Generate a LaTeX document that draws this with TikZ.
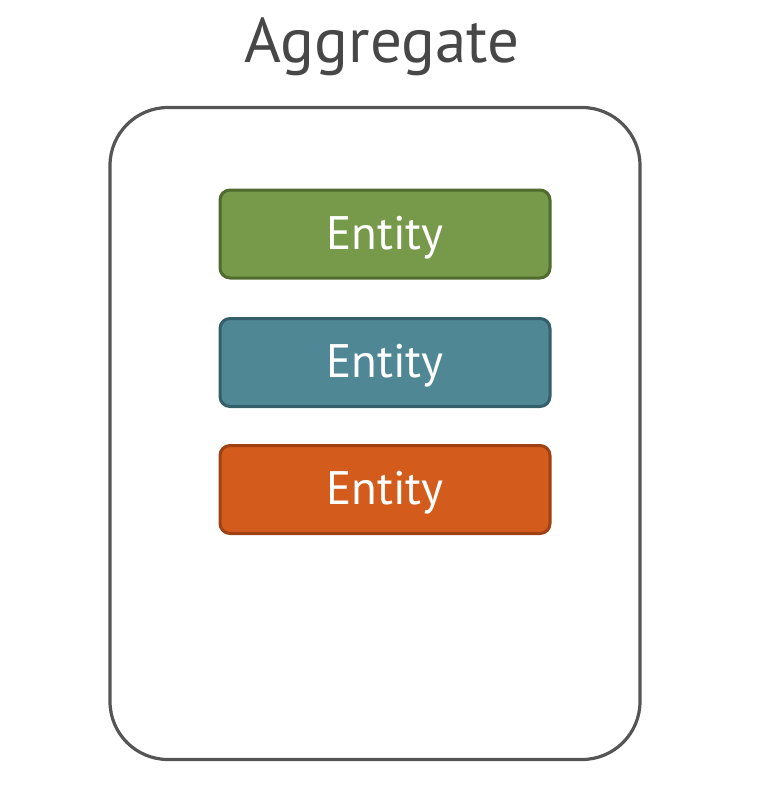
\documentclass[tikz,border=0pt]{standalone}
\usepackage{fontspec}
\setmainfont{PT Sans}
\definecolor{gfill}{HTML}{77994A}
\definecolor{gline}{HTML}{4F6B2E}
\definecolor{bfill}{HTML}{508795}
\definecolor{bline}{HTML}{345F6A}
\definecolor{ofill}{HTML}{D35C1C}
\definecolor{oline}{HTML}{9E4114}
\definecolor{frame}{HTML}{555555}
\definecolor{title}{HTML}{474747}
\begin{document}
\begin{tikzpicture}[x=1pt,y=-1pt,
  entbox/.style={rounded corners=10pt,line width=3pt,minimum width=330pt,minimum height=88pt,
    text=white,font=\fontsize{47}{50}\selectfont,inner sep=0pt,text depth=6pt,text height=36pt}]
\useasboundingbox (0,0) rectangle (778,800);
\node[font=\fontsize{63}{66}\selectfont,text=title,anchor=base] (agg) at (382,63) {Aggregate};
\node[draw=frame,line width=3.2pt,rounded corners=58pt,minimum width=530pt,minimum height=652pt,inner sep=0pt] (outer) at (375,433.5) {};
\node[entbox,fill=gfill,draw=gline] (e1) at (385,234) {Entity};
\node[entbox,fill=bfill,draw=bline] (e2) at (385,362.5) {Entity};
\node[entbox,fill=ofill,draw=oline] (e3) at (385,489.5) {Entity};
\end{tikzpicture}
\end{document}
